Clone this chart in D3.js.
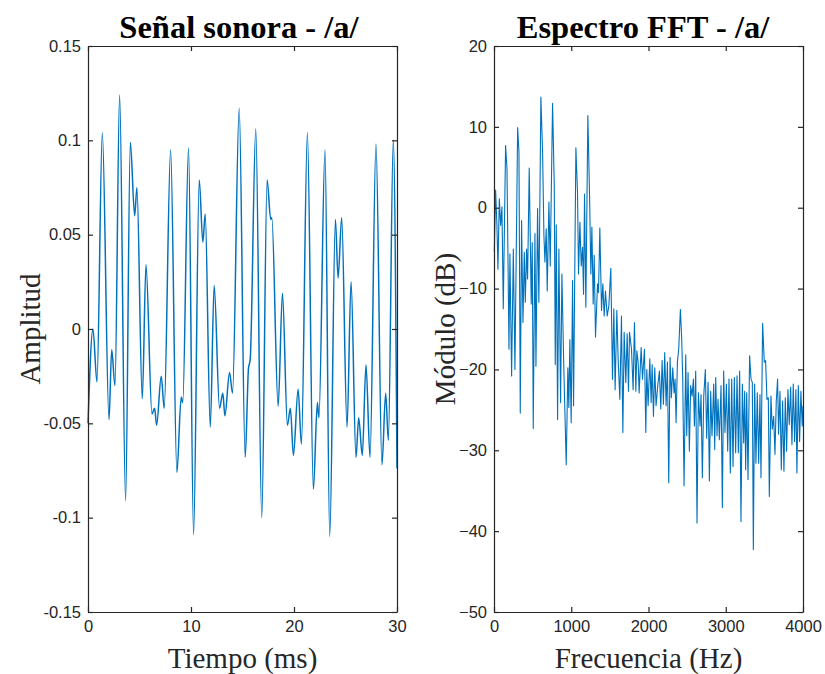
<!DOCTYPE html>
<html>
<head>
<meta charset="utf-8">
<script src="https://cdn.jsdelivr.net/npm/d3@7"></script>
<style>
body { margin: 0; background: #fff; }
.tick text { font-family: "Liberation Sans", Arial, sans-serif; font-size: 16.5px; fill: #262626; }
.ttl { font-family: "Liberation Serif", "Times New Roman", serif; font-weight: bold; font-size: 32.5px; fill: #000; }
.lbl { font-family: "Liberation Serif", "Times New Roman", serif; font-size: 29px; fill: #262626; }
</style>
</head>
<body>
<script>
// time signal, ms / amplitude (at peaks and dips)
var tiempo = [0, 0.48, 0.87, 1.39, 2.04, 2.30, 2.62, 3.07, 3.65, 4.11, 4.53, 4.75, 5.27, 5.63, 6.21, 6.47, 6.66,
  7.11, 7.40, 8.02, 8.63, 9.05, 9.20, 9.76, 10.25, 10.80, 11.15, 11.38, 11.87, 12.25, 12.77, 13.09, 13.29,
  13.74, 14.03, 14.68, 15.26, 15.58, 15.75, 16.29, 16.87, 17.39, 17.74, 17.85, 18.46, 18.88, 19.36, 19.65,
  19.94, 20.40, 20.72, 21.30, 21.88, 22.27, 22.42, 23.01, 23.47, 24.02, 24.28, 24.63, 25.15, 25.54, 26.02,
  26.28, 26.63, 26.99, 27.38, 27.96, 28.54, 28.90, 29.16, 29.64, 30];
var amplitud = [-0.050, 0.000, -0.028, 0.104, -0.048, -0.011, -0.030, 0.124, -0.091, 0.099, 0.060, 0.075,
  -0.037, 0.034, -0.045, -0.042, -0.051, -0.025, -0.042, 0.095, -0.076, -0.036, -0.039, 0.096, -0.109,
  0.079, 0.046, 0.061, -0.052, 0.023, -0.042, -0.034, -0.046, -0.023, -0.034, 0.117, -0.068, -0.021,
  -0.016, 0.106, -0.100, 0.079, 0.058, 0.059, -0.041, 0.019, -0.051, -0.042, -0.067, -0.032, -0.061,
  0.104, -0.085, -0.039, -0.047, 0.095, -0.110, 0.058, 0.027, 0.059, -0.052, 0.025, -0.068, -0.047,
  -0.067, -0.019, -0.068, 0.098, -0.072, -0.034, -0.059, 0.100, -0.074];

// spectrum, Hz / dB
var frecuencia = [4, 21, 38, 51, 69, 86, 103, 120, 150, 168, 194, 206, 228, 250, 271, 306, 323, 340, 357,
  375, 392, 405, 422, 435, 456, 482, 495, 508, 530, 543, 564, 581, 607, 629, 646, 659, 676, 689, 711, 728,
  758, 780, 793, 806, 823, 840, 862, 879, 905, 935, 956, 969, 982, 999, 1017, 1030, 1060, 1081, 1094, 1112,
  1129, 1146, 1159, 1172, 1189, 1215, 1237, 1254, 1267, 1284, 1297, 1314, 1340, 1353, 1370, 1392, 1409,
  1426, 1443, 1465, 1487, 1512, 1534, 1551, 1568, 1590, 1607, 1629, 1650, 1668, 1685, 1706, 1724, 1741,
  1754, 1780, 1801, 1818, 1836, 1849, 1866, 1879, 1905, 1922, 1948, 1965, 1978, 1995, 2017, 2034, 2047,
  2064, 2081, 2098, 2120, 2141, 2159, 2176, 2193, 2210, 2228, 2245, 2262, 2279, 2296, 2314, 2331, 2344,
  2357, 2374, 2391, 2413, 2430, 2443, 2460, 2482, 2495, 2512, 2529, 2546, 2564, 2581, 2594, 2611, 2628,
  2646, 2667, 2680, 2697, 2715, 2736, 2753, 2771, 2788, 2805, 2822, 2844, 2857, 2870, 2887, 2900, 2917,
  2939, 2956, 2973, 2990, 3008, 3025, 3042, 3059, 3077, 3094, 3111, 3128, 3146, 3163, 3180, 3197, 3215,
  3232, 3245, 3258, 3271, 3288, 3309, 3327, 3344, 3357, 3374, 3391, 3408, 3426, 3443, 3456, 3477, 3499,
  3516, 3533, 3551, 3564, 3585, 3602, 3620, 3637, 3654, 3671, 3684, 3702, 3719, 3736, 3753, 3771, 3788,
  3805, 3822, 3840, 3857, 3874, 3891, 3908, 3921, 3939, 3956, 3973, 3990, 4000];
var modulo = [-5.5, 2.2, -2.2, -7.6, 1.1, -2.2, 0.1, -12.5, 7.7, 4.8, -17.5, -5.7, -20.8, -5.1, -20.0, 9.9,
  6.9, -25.4, -1.6, -14.2, -5.5, -11.7, -5.1, -8.8, 4.9, -11.9, -4.3, -27.3, -3.2, -19.6, -0.1, -11.7,
  13.7, 6.9, -3.4, -6.7, -2.6, -10.3, 0.7, -7.2, 12.9, 2.8, -19.4, -2.1, -26.2, -5.1, -24.1, -8.2, -20.4,
  -31.8, -19.8, -24.7, -16.3, -26.6, -9.0, -24.5, 7.4, 1.9, -8.2, -1.8, -7.2, -4.9, -10.7, 1.7, -12.3,
  11.4, 1.5, -8.2, -2.4, -11.9, -5.9, -16.0, -9.4, -10.5, -2.5, -12.7, -9.4, -13.4, -10.3, -13.4, -12.1,
  -7.5, -21.2, -12.5, -22.5, -12.7, -18.7, -23.7, -13.4, -27.8, -15.4, -21.6, -15.6, -22.7, -15.4, -17.5,
  -22.5, -14.2, -22.7, -17.7, -19.1, -22.9, -17.3, -21.2, -17.5, -27.8, -20.0, -24.5, -18.7, -24.1, -19.4,
  -25.8, -19.8, -24.5, -22.0, -20.2, -24.9, -18.9, -24.3, -17.9, -24.5, -19.1, -34.0, -18.5, -23.5, -19.8,
  -22.9, -21.2, -26.6, -19.1, -17.5, -12.6, -16.3, -21.2, -34.4, -18.2, -28.2, -20.4, -30.1, -22.0, -23.3,
  -21.2, -27.0, -20.2, -39.0, -22.9, -27.0, -23.1, -33.4, -23.3, -20.0, -28.5, -21.6, -33.8, -22.7, -28.2,
  -21.8, -29.9, -21.0, -28.2, -23.7, -28.7, -22.0, -37.1, -20.2, -27.8, -21.8, -30.1, -21.2, -32.8, -21.2,
  -32.0, -21.0, -30.3, -20.8, -30.3, -20.2, -38.8, -21.8, -29.1, -22.7, -32.4, -22.9, -33.6, -18.3, -21.2,
  -21.6, -42.3, -21.8, -31.6, -22.9, -31.6, -23.1, -33.4, -14.3, -19.1, -18.9, -23.7, -23.5, -35.7, -23.3,
  -27.4, -25.8, -30.5, -23.9, -21.2, -28.0, -22.7, -32.4, -23.9, -32.6, -23.5, -30.1, -22.5, -26.8, -22.2,
  -29.3, -21.8, -28.9, -22.5, -32.8, -22.0, -28.9, -22.7, -27.0, -24.5];

var ticksT = [0, 10, 20, 30];
var ticksA = [-0.15, -0.1, -0.05, 0, 0.05, 0.1, 0.15];
var ticksF = [0, 1000, 2000, 3000, 4000];
var ticksM = [-50, -40, -30, -20, -10, 0, 10, 20];

var W = 825, H = 674;
var top_ = 46, bot = 612;
var azul = "#0072BD", eje = "#262626";

var svg = d3.select("body").append("svg")
    .attr("width", W).attr("height", H);

function panel(x0, x1, xdom, ydom, xt, yt, xf, yf, xs, ys, curva, ancho, titulo, xl, yl, ylx, tx){
    var x = d3.scaleLinear().domain(xdom).range([x0, x1]);
    var y = d3.scaleLinear().domain(ydom).range([bot, top_]);
    var g = svg.append("g");

    g.append("path")
	.datum(d3.zip(xs, ys))
	.attr("fill", "none")
	.attr("stroke", azul)
	.attr("stroke-width", ancho)
	.attr("stroke-linejoin", "round")
	.attr("d", d3.line().x(function(d){ return x(d[0]); })
	      .y(function(d){ return y(d[1]); }).curve(curva));

    var ax = [
	[d3.axisBottom(x).tickValues(xt).tickFormat(xf), bot, 0, true],
	[d3.axisTop(x).tickValues(xt).tickFormat(""), top_, 0, false],
	[d3.axisLeft(y).tickValues(yt).tickFormat(yf), 0, x0, true],
	[d3.axisRight(y).tickValues(yt).tickFormat(""), 0, x1, false]
    ];
    ax.forEach(function(a, i){
	var s = g.append("g")
	    .attr("transform", "translate(" + a[2] + "," + a[1] + ")")
	    .call(a[0].tickSizeInner(-5).tickSizeOuter(0).tickPadding(i < 2 ? 8 : 7));
	s.select(".domain").attr("stroke", eje).attr("stroke-width", 1.2);
	s.selectAll(".tick line").attr("stroke", eje).attr("stroke-width", 1.2);
	if (!a[3]) s.selectAll(".tick text").remove();
    });
    g.selectAll(".tick text").attr("fill", eje);

    var cx = (x0 + x1) / 2;
    svg.append("text").attr("class", "ttl").attr("x", tx).attr("y", 38)
	.attr("text-anchor", "middle").text(titulo);
    svg.append("text").attr("class", "lbl").attr("x", cx).attr("y", 668)
	.attr("text-anchor", "middle").text(xl);
    svg.append("text").attr("class", "lbl")
	.attr("transform", "translate(" + ylx + "," + ((top_ + bot) / 2) + ") rotate(-90)")
	.attr("text-anchor", "middle").text(yl);
}

panel(88, 397, [0, 30], [-0.15, 0.15], ticksT, ticksA, d3.format("d"),
      function(d){ return d === 0 ? "0" : String(d); },
      tiempo, amplitud, d3.curveMonotoneX, 1.5,
      "Señal sonora - /a/", "Tiempo (ms)", "Amplitud", 40, 239);

panel(494, 803, [0, 4000], [-50, 20], ticksF, ticksM, d3.format("d"), d3.format("d"),
      frecuencia, modulo, d3.curveLinear, 1.1,
      "Espectro FFT - /a/", "Frecuencia (Hz)", "Módulo (dB)", 455, 643);
</script>
</body>
</html>
